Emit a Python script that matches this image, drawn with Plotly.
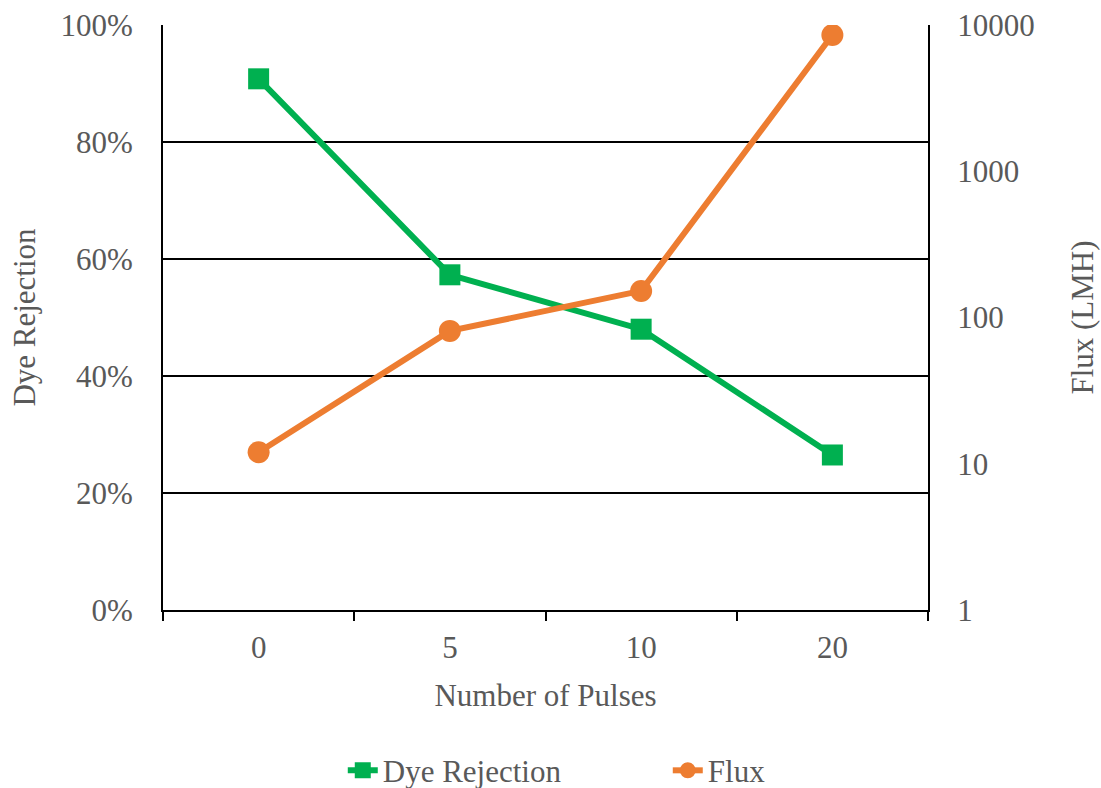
import plotly.graph_objects as go

pulses = ["0", "5", "10", "20"]
dye_rejection = [0.908, 0.573, 0.480, 0.265]
flux = [12, 81, 152, 8550]

FONT = "Liberation Serif, Times New Roman, serif"
GREY = "#595959"
FS = 31

fig = go.Figure()
fig.add_trace(go.Scatter(
    x=pulses, y=dye_rejection, name="Dye Rejection", mode="lines+markers",
    line=dict(color="#00B050", width=6),
    marker=dict(symbol="square", size=21, color="#00B050"),
    yaxis="y"))
fig.add_trace(go.Scatter(
    x=pulses, y=flux, name="Flux", mode="lines+markers",
    line=dict(color="#ED7D31", width=6),
    marker=dict(symbol="circle", size=22, color="#ED7D31"),
    yaxis="y2"))

fig.update_layout(
    width=1101, height=788,
    margin=dict(l=163, r=173, t=25, b=178, autoexpand=False),
    paper_bgcolor="white", plot_bgcolor="white",
    font=dict(family=FONT, size=FS, color=GREY),
    showlegend=True,
    legend=dict(orientation="h", x=0.235, xanchor="left", yref="container",
                y=0.022, yanchor="middle", font=dict(size=FS, color=GREY),
                entrywidth=280, entrywidthmode="pixels", tracegroupgap=0),
    xaxis=dict(type="category", categoryorder="array", categoryarray=pulses,
               range=[-0.5, 3.5], showline=True, linecolor="black", linewidth=2,
               ticks="outside", tickson="boundaries", ticklen=9, tickwidth=2,
               tickcolor="black", showgrid=False, zeroline=False, automargin=False,
               ticklabelstandoff=9,
               title=dict(text="Number of Pulses", standoff=20,
                          font=dict(size=FS, color=GREY))),
    yaxis=dict(range=[0, 1], tickvals=[0, 0.2, 0.4, 0.6, 0.8, 1.0],
               tickformat=".0%", showline=True, linecolor="black", linewidth=2,
               showgrid=True, gridcolor="black", gridwidth=1.5, zeroline=False,
               ticks="", ticklabelstandoff=22, automargin=False,
               title=dict(text="Dye Rejection", standoff=16,
                          font=dict(size=FS, color=GREY))),
    yaxis2=dict(type="log", range=[0, 4], overlaying="y", side="right",
                tickvals=[1, 10, 100, 1000, 10000],
                ticktext=["1", "10", "100", "1000", "10000"],
                showline=True, linecolor="black", linewidth=2, automargin=False,
                showgrid=False, zeroline=False, ticks="", ticklabelstandoff=21,
                title=dict(text="Flux (LMH)", standoff=38,
                           font=dict(size=FS, color=GREY))),
)

fig.write_html("out.html", config={"displayModeBar": False},
               post_script="document.body.style.margin='0';document.body.style.overflow='hidden';")
